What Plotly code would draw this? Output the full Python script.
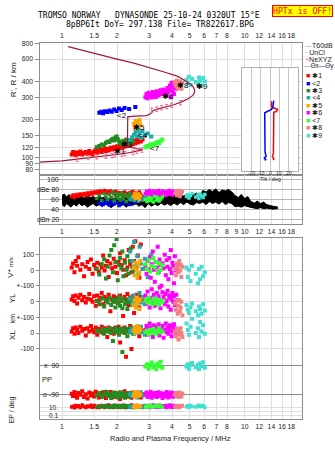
import math
import plotly.graph_objects as go

W, H = 335, 451
def px(x): return x / W
def py(y): return 1 - y / H

# ---------------- data ----------------
FREQ_TICKS = [1, 1.5, 2, 3, 4, 5, 6, 7, 8, 10, 12, 14, 16, 18]
FREQ_TICKS_MID = [1, 1.5, 2, 3, 4, 5, 6, 7, 8, 9, 10, 12, 14, 16, 18]
HEIGHT_TICKS = [800, 600, 400, 300, 200, 150, 120, 100, 90, 80]

# real-height profile (maroon)
PROF_F = [0.748, 1.0, 1.21, 1.55, 1.88, 2.21, 2.57, 2.77, 2.28, 2.28, 2.28, 2.29, 2.5, 2.9, 3.05, 3.15, 3.4,
          3.75, 4.1, 4.5, 4.9, 5.2, 5.32, 5.30, 5.15, 4.8, 4.3, 3.7, 3.0, 2.5, 2.0, 1.5, 1.08]
PROF_H = [92.4, 94.6, 97.5, 101.6, 103.9, 108, 112.7, 116, 122, 150, 180, 210, 213, 215, 222, 235, 244,
          253, 262, 276, 292, 310, 330, 350, 372, 400, 438, 470, 516, 555, 600, 668, 753]
# NeXYZ error-bar markers
NE_F = [1.21, 1.39, 1.55, 1.74, 1.88, 1.95, 2.13, 2.21, 2.45, 2.57, 2.74, 3.10, 3.30, 3.51, 3.74, 3.98, 4.45]
NE_H = [97.5, 100.5, 101.6, 102.8, 103.9, 105.1, 107, 108, 110, 112.7, 115, 237, 242, 248, 253, 260, 272]

# cluster 1 (red)
RED_F = [1.13, 1.15, 1.17, 1.19, 1.21, 1.23, 1.26, 1.29, 1.32, 1.35, 1.38, 1.41, 1.44, 1.47, 1.50, 1.53,
         1.56, 1.59, 1.62, 1.65, 1.68, 1.71, 1.74, 1.77, 1.80, 1.84, 1.88, 1.92, 1.96, 2.00, 2.04, 2.08,
         2.12, 2.16, 2.20, 2.24, 2.28, 2.32, 2.36, 2.40, 2.44, 2.48, 2.52, 2.56, 2.60, 2.65, 2.70, 2.76]
RED_H = [106, 111, 108, 105, 110, 107, 112, 106, 109, 111, 107, 113, 109, 106, 112, 115, 109, 113, 117, 111,
         115, 119, 113, 117, 114, 120, 116, 121, 117, 123, 118, 124, 120, 127, 122, 129, 124, 131, 126, 133,
         128, 136, 130, 138, 132, 140, 134, 139]
RED_DB = [66, 69, 64, 68, 70, 67, 71, 69, 72, 68, 73, 70, 74, 71, 75, 73, 76, 72, 77, 74, 75, 78, 73, 76,
          74, 77, 75, 72, 76, 70, 74, 71, 73, 68, 75, 70, 72, 66, 74, 69, 76, 67, 73, 71, 68, 75, 70, 66]
RED_V = [20, 45, -10, 60, 30, 85, 5, 40, -35, 25, 55, 10, 70, -20, 35, 15, 50, -5, 40, 20, 95, 0, 30, 60,
         -40, 45, 15, 75, 25, -15, 55, 110, 35, 5, 65, -30, 20, 130, 40, -10, 150, 60, 185, 25, 95, -45, 165, 10]
RED_YL = [15, 35, 5, 40, -10, 25, 45, 10, 30, -5, 20, 50, 15, 0, 35, -25, 40, 10, 25, 55, -15, 30, 5, 20,
          45, -60, 15, 35, 0, 25, -5, 40, 10, -90, 30, 15, 50, -20, 25, 5, 35, -70, 20, 45, 10, -35, 30, 15]
RED_XL = [10, 30, -5, 35, 20, 0, 40, 15, 25, -15, 30, 10, 45, 20, 5, 35, -10, 25, 15, 40, 0, 30, 20, -25,
          35, 10, 25, -5, 30, 15, 40, -60, 20, 5, 35, -150, 25, 10, 45, -100, 20, 30, 0, 15, 35, -20, 25, 10]
RED_PP = [-85, -100, -75, -95, -110, -80, -92, -70, -105, -88, -115, -78, -96, -84, -102, -72, -90, -108,
          -82, -98, -76, -94, -112, -86, -100, -74, -92, -106, -80, -96, -88, -118, -84, -98, -70, -94,
          -104, -82, -90, -110, -78, -96, -86, -100, -74, -92, -108, -88]
RED_EP = [12, 20, 8, 30, 15, 25, 10, 40, 18, 9, 22, 14, 35, 11, 28, 16, 9, 24, 13, 32, 19, 10, 26, 15,
          38, 12, 21, 9, 30, 17, 11, 25, 14, 33, 10, 20, 27, 12, 16, 40, 9, 23, 18, 13, 29, 11, 22, 15]

# cluster 2 (blue)
BLUE_F = [1.60, 1.64, 1.68, 1.72, 1.77, 1.82, 1.87, 1.93, 1.99, 2.05, 2.12, 2.20, 2.33, 2.52]
BLUE_H = [226, 231, 224, 233, 229, 236, 231, 240, 234, 244, 238, 247, 242, 251]
BLUE_DB = [52, 55, 50, 57, 53, 49, 56, 51, 54, 48, 55, 52, 50, 53]

# cluster 3 (green)
GREEN_F = [1.55, 1.60, 1.65, 1.70, 1.74, 1.78, 1.82, 1.86, 1.90, 1.93, 1.96, 1.99, 2.02, 2.05, 2.08, 2.11,
           2.14, 2.17, 2.21, 2.25, 2.28, 2.31, 2.35, 2.38, 2.42, 2.45]
GREEN_H = [121, 124, 127, 126, 131, 134, 133, 138, 141, 137, 144, 147, 140, 135, 130, 128, 133, 136, 131,
           139, 134, 129, 137, 132, 140, 135]
GREEN_DB = [62, 68, 58, 72, 65, 60, 70, 64, 74, 57, 67, 71, 63, 69, 59, 73, 66, 61, 70, 56, 68, 64, 72, 60, 66, 62]
GREEN_V = [10, -25, 40, 70, -50, 25, 95, 130, -10, 160, 55, 200, -60, 35, 80, 15, 120, -35, 50, 5, 90, -20,
           60, 140, 25, -5]
GREEN_YL = [5, -15, 20, -30, 10, -5, 25, -20, 0, 15, -35, 10, -10, 30, -25, 5, -40, 20, -15, 0, -45, 10, -5, 25, -20, 0]
GREEN_XL = [15, 5, 25, -5, 20, 10, 30, 0, -50, 15, 35, 5, 20, -10, 25, 10, -120, 30, 0, 15, -20, 25, 5, 35, 10, -5]
GREEN_PP = [-95, -80, -105, -88, -72, -100, -85, -112, -92, -78, -98, -86, -108, -90, -76, -102, -84, -96,
            -110, -82, -94, -88, -104, -80, -98, -90]
GREEN_EP = [15, 9, 25, 12, 30, 18, 10, 22, 14, 35, 11, 20, 16, 28, 9, 24, 13, 19, 32, 10, 26, 15, 12, 21, 17, 11]

# cluster 4 (teal)
TEAL_F = [2.36, 2.42, 2.48, 2.53, 2.58, 2.62, 2.66, 2.70, 2.76, 2.84, 2.95, 3.08]
TEAL_H = [138, 145, 152, 160, 148, 166, 156, 143, 162, 150, 155, 147]
TEAL_DB = [60, 65, 58, 63, 70, 57, 62, 67, 59, 64, 61, 66]
TEAL_V = [120, 60, 180, 30, 90, -20, 150, 45, 10, 75, -40, 100]
TEAL_YL = [20, -10, 40, 5, -25, 15, 55, -5, 30, -15, 10, 0]
TEAL_XL = [10, 25, -5, 35, 15, 0, 20, 40, 5, -10, 30, 15]
TEAL_PP = [-88, -100, -80, -95, -108, -85, -92, -76, -98, -90, -104, -82]
TEAL_EP = [12, 20, 9, 28, 15, 11, 24, 17, 10, 30, 14, 19]

# cluster 5 (orange)
ORANGE_F = [2.47, 2.50, 2.53, 2.56, 2.59, 2.62, 2.65, 2.68]
ORANGE_H = [185, 172, 195, 180, 190, 176, 198, 183]
ORANGE_DB = [66, 72, 62, 69, 64, 71, 60, 67]
ORANGE_V = [20, -30, 50, 5, -45, 35, -15, 60]
ORANGE_YL = [-20, 10, -35, 25, -10, 5, -45, 15]
ORANGE_XL = [15, 35, 0, 25, 45, 10, 30, 20]
ORANGE_PP = [-95, -80, -102, -88, -74, -98, -84, -92]
ORANGE_EP = [14, 22, 10, 30, 16, 12, 26, 18]

# cluster 6 (magenta)
MAG_F = [2.86, 2.90, 2.94, 2.98, 3.02, 3.06, 3.10, 3.14, 3.18, 3.22, 3.26, 3.30, 3.34, 3.38, 3.42, 3.46,
         3.50, 3.55, 3.60, 3.65, 3.70, 3.74, 3.78, 3.82, 3.86, 3.90, 3.94, 3.98, 4.02, 4.06, 4.10, 4.15, 4.22, 4.30]
MAG_H = [300, 318, 295, 325, 305, 312, 298, 330, 308, 320, 302, 335, 315, 310, 325, 340, 318, 330, 345, 322,
         338, 310, 355, 328, 345, 372, 300, 390, 335, 360, 318, 380, 350, 365]
MAG_DB = [72, 76, 69, 74, 78, 71, 75, 68, 77, 73, 70, 76, 72, 78, 69, 74, 71, 77, 73, 75, 68, 76, 72, 70,
          78, 74, 71, 75, 69, 77, 73, 72, 76, 70]
MAG_V = [30, -20, 60, 10, 85, -45, 40, 120, 5, -70, 55, 20, 150, -10, 70, 35, -95, 45, 15, 100, -30, 65, 25,
         -55, 80, 10, 130, -15, 50, 30, -80, 90, 0, 40]
MAG_YL = [40, -10, 65, 15, -35, 25, 80, 0, 45, -25, 20, 55, -5, 35, 90, -40, 10, 60, 30, -15, 50, 5, 70,
          -30, 25, 40, -50, 15, 55, 0, 35, -20, 45, 10]
MAG_XL = [20, 45, -10, 30, 60, 5, 35, -25, 50, 15, 40, 0, 25, 55, -15, 30, 10, 45, -30, 20, 60, 5, 35, -5,
          25, 50, 15, -20, 40, 10, 55, 30, 0, 20]
MAG_PP = [-90, -78, -104, -86, -96, -72, -110, -84, -98, -92, -80, -106, -88, -76, -100, -94, -82, -112,
          -90, -86, -102, -74, -96, -108, -84, -92, -78, -100, -88, -104, -80, -94, -90, -98]
MAG_EP = [20, 12, 30, 15, 9, 25, 14, 40, 18, 11, 28, 16, 10, 22, 35, 13, 19, 27, 12, 17, 32, 10, 24, 15,
          21, 38, 13, 26, 11, 19, 29, 14, 23, 16]

# cluster 7 (lime)
LIME_F = [2.86, 2.92, 2.98, 3.04, 3.10, 3.16, 3.22, 3.28, 3.34, 3.40, 3.47, 3.54]
LIME_H = [121, 124, 122, 127, 125, 129, 127, 131, 133, 130, 136, 139]
LIME_DB = [60, 56, 64, 58, 62, 55, 66, 59, 63, 57, 61, 65]
LIME_V = [40, 10, 65, -5, 30, 80, 20, 55, -15, 45, 5, 35]
LIME_YL = [10, -5, 25, 0, -15, 15, -10, 20, 5, -20, 10, 0]
LIME_XL = [5, 15, -10, 20, 0, 25, 10, -5, 15, 30, 5, 10]
LIME_PP = [85, 100, 72, 95, 110, 80, 92, 68, 104, 88, 115, 78]
LIME_EP = [15, 25, 10, 30, 18, 12, 22, 35, 14, 20, 28, 11]

# cluster 8 (salmon)
SALMON_F = [4.15, 4.20, 4.25, 4.30, 4.34, 4.38, 4.42, 4.46, 4.50, 4.56]
SALMON_H = [395, 370, 405, 355, 385, 365, 400, 375, 350, 390]
SALMON_DB = [72, 77, 68, 75, 70, 78, 66, 74, 71, 76]
SALMON_V = [10, -30, 45, 20, -10, 60, 0, 35, -40, 25]
SALMON_YL = [-10, -50, 5, -75, -25, 10, -60, -35, 0, -85]
SALMON_XL = [10, -20, 25, 5, -40, 15, -10, 30, 0, -25]
SALMON_PP = [-92, -80, -100, -86, -106, -78, -96, -88, -102, -84]
SALMON_EP = [18, 12, 25, 15, 30, 10, 22, 14, 20, 28]

# cluster 9 (turquoise)
CYAN_F = [4.80, 4.88, 4.95, 5.05, 5.15, 5.40, 5.55, 5.62, 5.70, 5.80, 5.92, 6.05]
CYAN_H = [410, 390, 435, 375, 420, 395, 380, 430, 405, 370, 425, 400]
CYAN_DB = [66, 70, 63, 68, 72, 65, 69, 62, 71, 67, 64, 70]
CYAN_V = [20, -40, 5, -65, 30, -20, -80, 10, -55, 25, -35, -10]
CYAN_YL = [-20, -50, -70, -35, -10, -60, -85, -30, -45, -75, -15, -55]
CYAN_XL = [60, 20, -10, 40, 90, 0, 30, -25, 70, 10, 50, -5]
CYAN_PP = [85, 100, 72, 94, 108, 80, 96, 70, 104, 88, 112, 78]
CYAN_EP = [15, 25, 10, 30, 18, 12, 22, 35, 14, 20, 28, 11]

# noise / amplitude band (black)
NOISE_F = [1.00, 1.03, 1.06, 1.09, 1.12, 1.16, 1.20, 1.24, 1.28, 1.33,
           1.38, 1.43, 1.48, 1.54, 1.60, 1.66, 1.72, 1.79, 1.86, 1.93,
           2.00, 2.08, 2.16, 2.25, 2.34, 2.43, 2.53, 2.63, 2.74, 2.85,
           2.97, 3.09, 3.22, 3.35, 3.49, 3.63, 3.78, 3.94, 4.10, 4.27,
           4.45, 4.63, 4.82, 5.02, 5.23, 5.45, 5.67, 5.90, 6.15, 6.40,
           6.67, 6.94, 7.23, 7.53, 7.84, 8.16, 8.50, 8.85, 9.21, 9.59,
           9.99, 10.4, 10.8, 11.3, 11.7, 12.2, 12.7, 13.2, 13.8, 14.3,
           14.9, 15.2]
NOISE_HI = [68, 71, 65, 70, 66, 69, 64, 68, 66, 63,
            67, 64, 66, 62, 65, 63, 66, 62, 64, 61,
            65, 62, 66, 63, 67, 64, 68, 65, 69, 66,
            70, 65, 68, 64, 69, 66, 71, 67, 70, 66,
            72, 67, 70, 66, 69, 73, 68, 78, 75, 80,
            76, 81, 74, 79, 77, 80, 75, 68, 64, 70,
            62, 66, 56, 53, 57, 52, 55, 50, 48, 47,
            46, 45]
NOISE_LO = [50, 46, 52, 48, 45, 51, 47, 53, 48, 50,
            45, 49, 52, 47, 50, 46, 51, 48, 44, 49,
            52, 47, 50, 45, 51, 48, 53, 47, 50, 44,
            52, 47, 51, 48, 53, 49, 52, 48, 53, 49,
            54, 50, 55, 51, 49, 54, 52, 55, 50, 56,
            52, 55, 51, 56, 50, 54, 52, 46, 47, 45,
            48, 46, 44, 43, 42, 44, 42, 43, 42, 41,
            42, 42]

# tilt inset
TILTX_H = [278, 272, 262, 250, 240, 232, 228, 200, 170, 140, 120, 108, 102, 98, 96]
TILTX_D = [1, 2, 1.5, 2, 8, 7, 4, 3.8, 3.8, 3.9, 3.8, 3.6, 2.5, 4.2, 3.2]
TILTY_H = [282, 268, 250, 240, 234, 230, 226, 200, 160, 130, 110, 103, 99, 97, 95]
TILTY_D = [4, 3.5, 3, 1.5, -1, -4, -5.5, -5.5, -5.4, -5.3, -5.2, -4.0, -6.0, -4.5, -5.5]
TILT_TICKS = [-20, -10, 0, 10, 20]

LABEL_TEXT = ["✱1", "<2", "✱3", "<4", "✱5", "✱6", "<7", "✱8", "✱9"]
LABEL_F = [2.08, 2.12, 2.26, 2.78, 2.64, 3.80, 3.23, 4.58, 5.82]
LABEL_H = [112.5, 216, 126, 151, 173, 304, 119, 371, 365]
CLUSTER_COLORS = ["#ff0000", "#0000ff", "#228b22", "#20a8a8", "#ffa500", "#ff00ff", "#33ff33", "#f08080", "#40e0d0"]

# ---------------- figure ----------------
MONO = "DejaVu Sans Mono"
SANS = "Liberation Sans, Arial, sans-serif"
GRID = "#dedede"
FRAME = "#8c8c8c"
MAROON = "#a3173f"
PINK = "#e8708a"

fig = go.Figure()

clusters = [
    (CLUSTER_COLORS[0], RED_F, RED_H, RED_DB, RED_V, RED_YL, RED_XL, RED_PP, RED_EP),
    (CLUSTER_COLORS[1], BLUE_F, BLUE_H, BLUE_DB, None, None, None, None, None),
    (CLUSTER_COLORS[2], GREEN_F, GREEN_H, GREEN_DB, GREEN_V, GREEN_YL, GREEN_XL, GREEN_PP, GREEN_EP),
    (CLUSTER_COLORS[3], TEAL_F, TEAL_H, TEAL_DB, TEAL_V, TEAL_YL, TEAL_XL, TEAL_PP, TEAL_EP),
    (CLUSTER_COLORS[4], ORANGE_F, ORANGE_H, ORANGE_DB, ORANGE_V, ORANGE_YL, ORANGE_XL, ORANGE_PP, ORANGE_EP),
    (CLUSTER_COLORS[5], MAG_F, MAG_H, MAG_DB, MAG_V, MAG_YL, MAG_XL, MAG_PP, MAG_EP),
    (CLUSTER_COLORS[6], LIME_F, LIME_H, LIME_DB, LIME_V, LIME_YL, LIME_XL, LIME_PP, LIME_EP),
    (CLUSTER_COLORS[7], SALMON_F, SALMON_H, SALMON_DB, SALMON_V, SALMON_YL, SALMON_XL, SALMON_PP, SALMON_EP),
    (CLUSTER_COLORS[8], CYAN_F, CYAN_H, CYAN_DB, CYAN_V, CYAN_YL, CYAN_XL, CYAN_PP, CYAN_EP),
]

# noise band in dB panel
fig.add_trace(go.Scatter(x=NOISE_F, y=NOISE_LO, mode="lines", line=dict(color="black", width=1),
                         xaxis="x2", yaxis="y2", showlegend=False, hoverinfo="skip"))
fig.add_trace(go.Scatter(x=NOISE_F, y=NOISE_HI, mode="lines", line=dict(color="black", width=1),
                         fill="tonexty", fillcolor="black",
                         xaxis="x2", yaxis="y2", showlegend=False, hoverinfo="skip"))

def sq(color, size):
    return dict(symbol="square", size=size, color=color, line=dict(width=0))

for col, f, h, db, v, yl, xl, pp, ep in clusters:
    fig.add_trace(go.Scatter(x=f, y=h, mode="markers", marker=sq(col, 4), xaxis="x", yaxis="y", showlegend=False))
    fig.add_trace(go.Scatter(x=f, y=db, mode="markers", marker=sq(col, 3.5), xaxis="x2", yaxis="y2", showlegend=False))
    if v is not None:
        fig.add_trace(go.Scatter(x=f, y=v, mode="markers", marker=sq(col, 4), xaxis="x3", yaxis="y3", showlegend=False))
        fig.add_trace(go.Scatter(x=f, y=yl, mode="markers", marker=sq(col, 4), xaxis="x3", yaxis="y4", showlegend=False))
        fig.add_trace(go.Scatter(x=f, y=xl, mode="markers", marker=sq(col, 4), xaxis="x3", yaxis="y5", showlegend=False))
        fig.add_trace(go.Scatter(x=f, y=pp, mode="markers", marker=sq(col, 4), xaxis="x3", yaxis="y6", showlegend=False))
        fig.add_trace(go.Scatter(x=f, y=ep, mode="markers", marker=sq(col, 3.5), xaxis="x3", yaxis="y7", showlegend=False))

# profile and NeXYZ markers
fig.add_trace(go.Scatter(x=PROF_F, y=PROF_H, mode="lines", line=dict(color=MAROON, width=1.2),
                         xaxis="x", yaxis="y", showlegend=False))
fig.add_trace(go.Scatter(x=NE_F, y=NE_H, mode="markers", marker=dict(size=1, color=PINK),
                         error_y=dict(type="percent", value=4, color=PINK, thickness=1, width=1.5),
                         xaxis="x", yaxis="y", showlegend=False))

# tilt inset
fig.add_trace(go.Scatter(x=TILTX_D, y=TILTX_H, mode="lines", line=dict(color="#ff0000", width=1.5),
                         xaxis="x4", yaxis="y8", showlegend=False))
fig.add_trace(go.Scatter(x=TILTY_D, y=TILTY_H, mode="lines", line=dict(color="#0000ff", width=1.5),
                         xaxis="x4", yaxis="y8", showlegend=False))

tickfont = dict(family=SANS, size=6.8, color="#222")
XDOM = [px(39.5), px(302)]
XRANGE = [-0.1232, 1.3136]

def faxis(**kw):
    d = dict(domain=XDOM, type="log", range=XRANGE, showgrid=True, gridcolor=GRID, gridwidth=1,
             showline=True, mirror=True, linecolor=FRAME, linewidth=1, zeroline=False,
             tickfont=tickfont, ticks="", tickangle=0, ticklabelstandoff=1)
    d.update(kw)
    return d

def lower_axis(rng, tv, tt, **kw):
    d = dict(domain=[py(419), py(236)], range=rng, tickvals=tv, ticktext=tt, anchor="x3",
             showgrid=True, gridcolor=GRID, zeroline=False, tickfont=tickfont, ticks="outside",
             ticklen=3, tickcolor=FRAME, showline=False, tickangle=0)
    d.update(kw)
    return d

fig.update_layout(
    width=W, height=H, margin=dict(l=0, r=0, t=0, b=0),
    paper_bgcolor="white", plot_bgcolor="white", showlegend=False,
    xaxis=faxis(anchor="y", side="top", tickvals=FREQ_TICKS, ticktext=[str(t) for t in FREQ_TICKS]),
    yaxis=dict(domain=[py(173), py(39.5)], type="log", range=[1.860, 2.904], anchor="x",
               tickvals=HEIGHT_TICKS, ticktext=[str(t) for t in HEIGHT_TICKS], showgrid=True, gridcolor=GRID,
               showline=True, mirror=True, linecolor=FRAME, zeroline=False, tickfont=tickfont,
               ticks="outside", ticklen=4, tickcolor=FRAME, tickangle=0),
    xaxis2=faxis(anchor="y2", side="bottom", tickvals=FREQ_TICKS_MID, ticktext=[str(t) for t in FREQ_TICKS_MID]),
    yaxis2=dict(domain=[py(222), py(173)], range=[11.6, 107.6], anchor="x2", tickvals=[100, 80, 60, 40, 20],
                showticklabels=False, showgrid=True, gridcolor="#b4b4c0", showline=True, mirror=True,
                linecolor=FRAME, zeroline=False),
    xaxis3=faxis(anchor="y3", side="bottom", tickvals=FREQ_TICKS, ticktext=[str(t) for t in FREQ_TICKS]),
    yaxis3=lower_axis([-937.5, 206.25], [100, 0], ["100", "0"], showline=True, mirror=True, linecolor=FRAME),
    yaxis4=lower_axis([-740.6, 403], [100, 0, -100], ["+-100", "0", "+-100"], overlaying="y3"),
    yaxis5=lower_axis([-543.75, 600], [0, -100], ["0", "-100"], overlaying="y3"),
    yaxis6=lower_axis([-245.2, 890.7], [90, -90], ["", ""], overlaying="y3", gridcolor="#8a8a8a",
                      showticklabels=False, ticks=""),
    yaxis7=lower_axis([-2, 43.75], [0.1, 1, 10], ["", "", ""], overlaying="y3", type="log",
                      showticklabels=False, ticks=""),
    xaxis4=dict(domain=[px(242), px(298)], range=[-29.5, 29.5], anchor="y8", tickvals=TILT_TICKS,
                showticklabels=False,
                showgrid=True, gridcolor="#c4c4d0", showline=True, mirror=True, linecolor="#b0b0c0",
                zeroline=False, ticks=""),
    yaxis8=dict(domain=[py(168), py(65)], type="log", range=[1.899, 2.704], anchor="x4",
                showticklabels=False, showgrid=False, showline=True, mirror=True, linecolor="#b0b0c0",
                zeroline=False, ticks=""),
)

ann = []
def A(x, y, text, size=7, family=SANS, xanchor="center", color="#222", angle=0, **kw):
    d = dict(x=px(x), y=py(y), xref="paper", yref="paper", text=text, showarrow=False,
             font=dict(family=family, size=size, color=color), xanchor=xanchor, yanchor="middle",
             textangle=angle)
    d.update(kw)
    ann.append(d)

# titles
A(149, 11.5, "TROMSO NORWAY   DYNASONDE 25-10-24 0320UT 15°E", size=8, family=MONO, color="black")
A(160, 20.5, "8pBP6It DoY= 297.138 File= TR822617.BPG", size=8, family=MONO, color="black")
A(302.5, 7.5, "HPTx is OFF!", size=8.2, family=MONO, color="#ff0000", bgcolor="#ffff00",
  bordercolor="#ff0000", borderwidth=1, borderpad=0)

# axis titles
A(13, 77, "R', R / km", size=8, angle=-90)
A(11, 266, "V* <span style='font-size:6px'>m/s</span>", size=8, angle=-90)
A(12, 297, "YL", size=8, angle=-90)
A(12, 317, "km", size=7, angle=-90)
A(12, 334, "XL", size=8, angle=-90)
A(47, 379, "PP", size=7.5)
A(12, 410, "EP / deg", size=7, angle=-90)
A(170, 438, "Radio and Plasma Frequency / MHz", size=7.5)

# tilt inset tick labels and title
for t in TILT_TICKS:
    ann.append(dict(x=t, y=py(171), xref="x4", yref="paper", text=str(t), showarrow=False,
                    font=dict(family=SANS, size=5, color="#222"), xanchor="center", yanchor="middle"))
A(270, 176.5, "Tilt / deg", size=5.5)

# dB panel labels (inside frame)
for val, txt in [(100, "100"), (80, "dBe 80"), (60, "60"), (40, "40"), (20, "dBn 20")]:
    ann.append(dict(x=px(61), y=val, xref="paper", yref="y2", text=txt, showarrow=False,
                    font=dict(family=SANS, size=7, color="#222"), xanchor="right", yanchor="middle"))
# PP / EP labels
for val, txt in [(90, "x  90"), (-90, "o -90")]:
    ann.append(dict(x=px(61), y=val, xref="paper", yref="y6", text=txt, showarrow=False,
                    font=dict(family=SANS, size=7, color="#222"), xanchor="right", yanchor="middle"))
for val, txt in [(1, "10."), (-1, "0.1")]:
    ann.append(dict(x=px(60), y=val, xref="paper", yref="y7", text=txt, showarrow=False,
                    font=dict(family=SANS, size=6.5, color="#222"), xanchor="right", yanchor="middle"))

# cluster labels on ionogram
for t, f, h in zip(LABEL_TEXT, LABEL_F, LABEL_H):
    ann.append(dict(x=math.log10(f), y=math.log10(h), xref="x", yref="y", text=t, showarrow=False,
                    font=dict(family=SANS, size=8, color="black"), xanchor="center", yanchor="middle"))

# legend (right side)
A(303, 42, "<span style='color:#999'>—</span>T60dB", xanchor="left")
A(303, 49, "· UnCl", xanchor="left")
A(303, 56, "<span style='color:%s'>+</span>NeXYZ" % PINK, xanchor="left")
A(302, 63, "<span style='color:%s'>—</span>Θx<span style='color:#2040ff'>—</span>Θy" % PINK,
  xanchor="left", size=6.5)
for i, (t, c) in enumerate(zip(LABEL_TEXT, CLUSTER_COLORS)):
    A(304, 72.3 + 7.5 * i, "<span style='color:%s'>■</span> %s" % (c, t), xanchor="left")

fig.update_layout(annotations=ann)
fig.write_html("out.html")
